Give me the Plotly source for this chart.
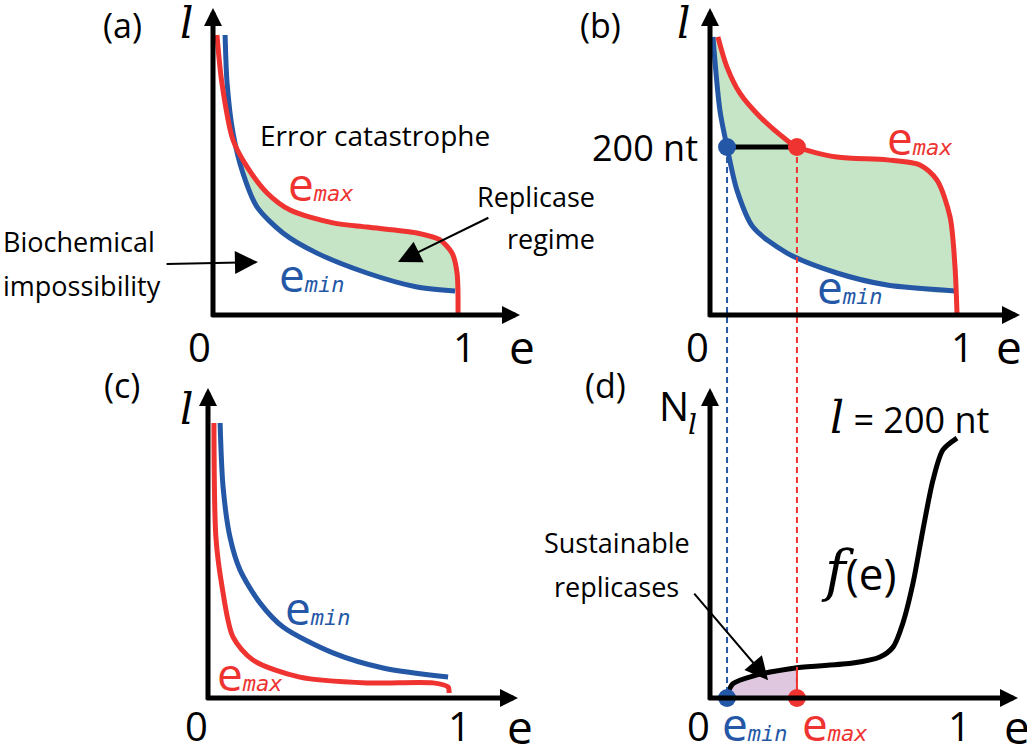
import plotly.graph_objects as go

W, H = 1027, 745

# ---------------- data (schematic units: e in [0,1]; l, N_l normalised) ----------------
# (a)
a_emax_e = [0.016, 0.036, 0.081, 0.138, 0.219, 0.312, 0.486, 0.623, 0.826, 0.919, 0.968, 0.988, 0.992]
a_emax_l = [1.000, 0.829, 0.625, 0.529, 0.436, 0.375, 0.329, 0.314, 0.293, 0.268, 0.221, 0.150, 0.000]
a_emin_e = [0.049, 0.057, 0.081, 0.121, 0.178, 0.283, 0.421, 0.623, 0.826, 0.980]
a_emin_l = [1.000, 0.829, 0.650, 0.507, 0.386, 0.293, 0.221, 0.150, 0.100, 0.086]
a_cross_l = 0.65   # curves meet here; green region lies below

# (b)
b_emax_e = [0.032, 0.068, 0.121, 0.202, 0.310, 0.352, 0.514, 0.717, 0.850, 0.919, 0.972, 0.992, 1.000]
b_emax_l = [0.993, 0.887, 0.792, 0.708, 0.625, 0.600, 0.564, 0.554, 0.536, 0.482, 0.350, 0.171, 0.007]
b_emin_e = [0.012, 0.040, 0.069, 0.109, 0.174, 0.312, 0.514, 0.717, 0.992]
b_emin_l = [0.993, 0.732, 0.600, 0.446, 0.314, 0.221, 0.150, 0.107, 0.086]

# (c)
c_emax_e = [0.024, 0.032, 0.057, 0.101, 0.182, 0.372, 0.644, 0.911, 0.972, 0.976]
c_emax_l = [1.000, 0.585, 0.404, 0.222, 0.138, 0.076, 0.055, 0.055, 0.040, 0.018]
c_emin_e = [0.049, 0.061, 0.089, 0.130, 0.211, 0.304, 0.506, 0.709, 0.972]
c_emin_l = [1.000, 0.767, 0.585, 0.465, 0.345, 0.258, 0.164, 0.109, 0.076]

# (d)  f(e) at l = 200 nt
d_f_e = [0.069, 0.093, 0.174, 0.352, 0.579, 0.688, 0.741, 0.781, 0.822, 0.862, 0.903, 0.943, 1.000]
d_f_n = [0.010, 0.052, 0.080, 0.110, 0.127, 0.149, 0.185, 0.273, 0.418, 0.611, 0.793, 0.902, 0.945]

# values at l = 200 nt
l_200 = 0.600
e_min_200 = 0.069
e_max_200 = 0.352

# ---------------- styling ----------------
RED = "#EE3331"
BLUE = "#2457A6"
GREEN = "#C6E4C6"
PURPLE = "#DFC7DF"
FONT = "Open Sans"
SERIF = "Liberation Serif"
MONO = "DejaVu Sans Mono"
ELL_CH = "\U0001D459"   # mathematical italic small l
F_CH = "\U0001D453"     # mathematical italic small f

# panel geometry: pixel of origin and pixels per unit
PANELS = {
    "a": dict(X0=213, Y0=315, SX=247, SY=280, x="x", y="y"),
    "b": dict(X0=710, Y0=315, SX=247, SY=280, x="x2", y="y2"),
    "c": dict(X0=208, Y0=698, SX=247, SY=275, x="x3", y="y3"),
    "d": dict(X0=710, Y0=698, SX=247, SY=275, x="x4", y="y4"),
}

fig = go.Figure()


def line(p, xs, ys, color, width=5, shape="spline", **kw):
    fig.add_trace(go.Scatter(x=xs, y=ys, mode="lines", xaxis=PANELS[p]["x"], yaxis=PANELS[p]["y"],
                             line=dict(color=color, width=width, shape=shape, smoothing=0.8),
                             hoverinfo="skip", showlegend=False, **kw))


def fill(p, xs, ys, color, shape="spline"):
    fig.add_trace(go.Scatter(x=xs, y=ys, mode="lines", fill="toself", fillcolor=color,
                             xaxis=PANELS[p]["x"], yaxis=PANELS[p]["y"],
                             line=dict(width=0, shape=shape, smoothing=0.8),
                             hoverinfo="skip", showlegend=False))


# (a) green regime
red_part = [(e, l) for e, l in zip(a_emax_e, a_emax_l) if a_emin_l[-1] <= l <= a_cross_l]
blue_part = [(e, l) for e, l in zip(a_emin_e, a_emin_l) if l <= a_cross_l][::-1]
poly = red_part + blue_part
fill("a", [q[0] for q in poly], [q[1] for q in poly], GREEN)
line("a", a_emin_e, a_emin_l, BLUE)
line("a", a_emax_e, a_emax_l, RED)

# (b) green regime
red_part = [(e, l) for e, l in zip(b_emax_e, b_emax_l) if l >= b_emin_l[-1]]
blue_part = list(zip(b_emin_e, b_emin_l))[::-1]
poly = red_part + blue_part
fill("b", [q[0] for q in poly], [q[1] for q in poly], GREEN)
line("b", b_emin_e, b_emin_l, BLUE)
line("b", b_emax_e, b_emax_l, RED)
line("b", [e_min_200, e_max_200], [l_200, l_200], "black", width=5, shape="linear")

# (c)
line("c", c_emin_e, c_emin_l, BLUE)
line("c", c_emax_e, c_emax_l, RED)

# (d) sustainable replicases
sub = [(e, n) for e, n in zip(d_f_e, d_f_n) if e_min_200 <= e <= e_max_200]
poly = [(e_min_200, 0)] + sub + [(e_max_200, 0)]
fill("d", [q[0] for q in poly], [q[1] for q in poly], PURPLE, shape="linear")
f_at_max = [n for e, n in zip(d_f_e, d_f_n) if e == e_max_200][0]
line("d", [e_max_200, e_max_200], [0, f_at_max], RED, width=2, shape="linear")


# dashed guide lines from (b) down to (d)
def paper_y(p, v):
    g = PANELS[p]
    return 1 - (g["Y0"] - v * g["SY"]) / H


shapes = []
for ev, col in ((e_min_200, BLUE), (e_max_200, RED)):
    shapes.append(dict(type="line", xref="x2", yref="paper", x0=ev, x1=ev,
                       y0=paper_y("b", l_200), y1=paper_y("d", 0),
                       line=dict(color=col, width=2, dash="6px,4px"), layer="above"))

line("d", d_f_e, d_f_n, "black", width=5)

# dots
for p, yv in (("b", l_200), ("d", 0)):
    fig.add_trace(go.Scatter(x=[e_min_200, e_max_200], y=[yv, yv], mode="markers",
                             xaxis=PANELS[p]["x"], yaxis=PANELS[p]["y"], cliponaxis=False,
                             marker=dict(size=18, color=[BLUE, RED]), hoverinfo="skip", showlegend=False))

# ---------------- annotations ----------------
ann = []
AXTIP = {"a": (1.243, 1.096), "b": (1.255, 1.096), "c": (1.255, 1.127), "d": (1.247, 1.127)}
for p, (ex, ly) in AXTIP.items():
    g = PANELS[p]
    for (x, y, ax_, ay_) in ((ex, 0, -0.012, 0), (0, ly, 0, -0.012)):
        ann.append(dict(xref=g["x"], yref=g["y"], axref=g["x"], ayref=g["y"], x=x, y=y, ax=ax_, ay=ay_,
                        text="", showarrow=True, arrowhead=2, arrowsize=0.72, arrowwidth=5,
                        arrowcolor="black", standoff=0))


def text(p, x, y, t, size=27, xanchor="center", yanchor="middle", color="black", family=FONT):
    g = PANELS[p]
    ann.append(dict(xref=g["x"], yref=g["y"], x=x, y=y, text=t, showarrow=False,
                    xanchor=xanchor, yanchor=yanchor, font=dict(size=size, color=color, family=family)))


def arrow(p, x, y, ax_, ay_):
    g = PANELS[p]
    ann.append(dict(xref=g["x"], yref=g["y"], axref=g["x"], ayref=g["y"], x=x, y=y, ax=ax_, ay=ay_,
                    text="", showarrow=True, arrowhead=2, arrowsize=2.3, arrowwidth=2,
                    arrowcolor="black", standoff=0))


def elab(sub):
    return 'e<span style="font-family:\'%s\';font-size:22px"><i>%s</i></span>' % (MONO, sub)


ELLFAM = "DejaVu Serif, " + SERIF
# panel letters, axis labels, ticks
for p, (lx, ly) in {"a": (-0.368, 1.036), "b": (-0.445, 1.036), "c": (-0.348, 1.138), "d": (-0.425, 1.138)}.items():
    text(p, lx, ly, "(%s)" % p, size=34)
for p, (lx, ly) in {"a": (-0.109, 1.040), "b": (-0.109, 1.040), "c": (-0.089, 1.050)}.items():
    text(p, lx, ly, ELL_CH, size=42, family=ELLFAM)
for p, (x0, x1, xe, yv) in {"a": (-0.053, 1.02, 1.251, -0.111), "b": (-0.049, 1.024, 1.211, -0.111),
                              "c": (-0.045, 1.02, 1.263, -0.100), "d": (-0.045, 1.012, 1.243, -0.100)}.items():
    text(p, x0, yv, "0", size=40)
    text(p, x1, yv, "1", size=40)
    text(p, xe, yv, "e", size=46)

# (a)
text("a", 0.656, 0.643, "Error catastrophe", size=28)
text("a", 0.296, 0.471, elab("max"), size=46, xanchor="left", color=RED)
text("a", 0.259, 0.146, elab("min"), size=46, xanchor="left", color=BLUE)
text("a", 1.555, 0.425, "Replicase", xanchor="right")
text("a", 1.555, 0.275, "regime", xanchor="right")
text("a", -0.858, 0.261, "Biochemical", xanchor="left")
text("a", -0.858, 0.107, "impossibility", xanchor="left")
arrow("a", 0.182, 0.189, -0.194, 0.182)
arrow("a", 0.749, 0.189, 1.121, 0.350)

# (b)
text("b", -0.04, l_200, "200 nt", size=36, xanchor="right")
text("b", 0.709, 0.636, elab("max"), size=46, xanchor="left", color=RED)
text("b", 0.425, 0.104, elab("min"), size=46, xanchor="left", color=BLUE)

# (c)
text("c", 0.304, 0.331, elab("min"), size=46, xanchor="left", color=BLUE)
text("c", 0.028, 0.091, elab("max"), size=46, xanchor="left", color=RED)

# (d)
text("d", -0.215, 1.065, "N", size=40, xanchor="left")
text("d", -0.069, 0.995, ELL_CH, size=28, family=ELLFAM)
text("d", 0.478, 1.018, '<span style="font-family:DejaVu Serif;font-size:44px">%s</span> = 200 nt' % ELL_CH,
     size=36, xanchor="left")
text("d", 0.440, 0.465, '<span style="font-family:DejaVu Serif;font-size:56px">%s</span>(e)' % F_CH,
     size=44, xanchor="left")
text("d", -0.377, 0.564, "Sustainable")
text("d", -0.377, 0.404, "replicases")
arrow("d", 0.235, 0.065, -0.069, 0.385)
text("d", 0.040, -0.091, elab("min"), size=46, xanchor="left", color=BLUE)
text("d", 0.364, -0.091, elab("max"), size=46, xanchor="left", color=RED)

# ---------------- layout ----------------
layout = dict(width=W, height=H, margin=dict(l=0, r=0, t=0, b=0), paper_bgcolor="white",
              plot_bgcolor="rgba(0,0,0,0)", annotations=ann, shapes=shapes, showlegend=False)
for i, (p, g) in enumerate(PANELS.items()):
    sfx = "" if i == 0 else str(i + 1)
    layout["xaxis" + sfx] = dict(domain=[0, 1], range=[-g["X0"] / g["SX"], (W - g["X0"]) / g["SX"]],
                                 visible=False, fixedrange=True, anchor="y" + sfx)
    layout["yaxis" + sfx] = dict(domain=[0, 1], range=[(g["Y0"] - H) / g["SY"], g["Y0"] / g["SY"]],
                                 visible=False, fixedrange=True, anchor="x" + sfx)
fig.update_layout(**layout)
fig.write_html("out.html", config={"displayModeBar": False},
               post_script="document.body.style.margin='0';document.body.style.overflow='hidden';")
